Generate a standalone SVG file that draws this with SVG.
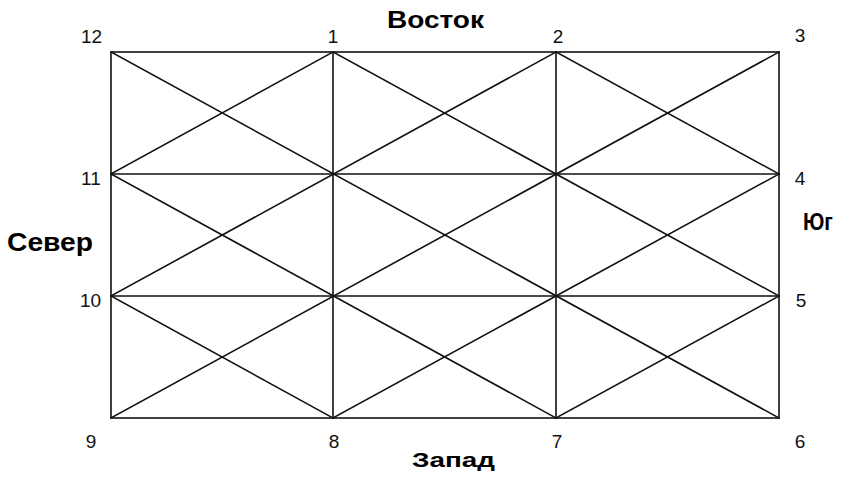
<svg xmlns="http://www.w3.org/2000/svg" width="847" height="478" viewBox="0 0 847 478">
<style>
.ln{stroke:#111;stroke-width:1.6;fill:none;stroke-linecap:square}
.num{font-family:"Liberation Sans",Arial,sans-serif;font-size:19px;fill:#111}
.dir{font-family:"Liberation Sans",Arial,sans-serif;font-weight:bold;fill:#000}
</style>
<rect width="847" height="478" fill="#fff"/>
<g id="connectors">
<rect class="ln" x="111" y="52" width="668" height="366"/>
<line class="ln" x1="333" y1="52" x2="333" y2="418"/>
<line class="ln" x1="556" y1="52" x2="556" y2="418"/>
<line class="ln" x1="111" y1="174" x2="779" y2="174"/>
<line class="ln" x1="111" y1="296" x2="779" y2="296"/>
<line class="ln" x1="111" y1="52" x2="779" y2="418"/>
<line class="ln" x1="333" y1="52" x2="779" y2="296"/>
<line class="ln" x1="556" y1="52" x2="779" y2="174"/>
<line class="ln" x1="111" y1="174" x2="556" y2="418"/>
<line class="ln" x1="111" y1="296" x2="333" y2="418"/>
<line class="ln" x1="111" y1="418" x2="779" y2="52"/>
<line class="ln" x1="111" y1="296" x2="556" y2="52"/>
<line class="ln" x1="111" y1="174" x2="333" y2="52"/>
<line class="ln" x1="333" y1="418" x2="779" y2="174"/>
<line class="ln" x1="556" y1="418" x2="779" y2="296"/>
</g>
<g id="n12"><text class="num" x="81" y="43">12</text></g>
<g id="n1"><text class="num" x="333" y="43" text-anchor="middle">1</text></g>
<g id="n2"><text class="num" x="558" y="43" text-anchor="middle">2</text></g>
<g id="n3"><text class="num" x="800" y="42" text-anchor="middle">3</text></g>
<g id="n11"><text class="num" x="81" y="185">11</text></g>
<g id="n4"><text class="num" x="800" y="185" text-anchor="middle">4</text></g>
<g id="n10"><text class="num" x="80" y="307">10</text></g>
<g id="n5"><text class="num" x="801" y="307" text-anchor="middle">5</text></g>
<g id="n9"><text class="num" x="91" y="448" text-anchor="middle">9</text></g>
<g id="n8"><text class="num" x="334" y="448" text-anchor="middle">8</text></g>
<g id="n7"><text class="num" x="557" y="448" text-anchor="middle">7</text></g>
<g id="n6"><text class="num" x="800" y="448" text-anchor="middle">6</text></g>
<g id="east"><text class="dir" x="387" y="28" font-size="24" textLength="97" lengthAdjust="spacingAndGlyphs">Восток</text></g>
<g id="north"><text class="dir" x="7" y="251" font-size="25" textLength="86" lengthAdjust="spacingAndGlyphs">Север</text></g>
<g id="south"><text class="dir" x="803" y="230" font-size="24" textLength="30" lengthAdjust="spacingAndGlyphs">Юг</text></g>
<g id="west"><text class="dir" x="412" y="467" font-size="21" textLength="83" lengthAdjust="spacingAndGlyphs">Запад</text></g>
</svg>
